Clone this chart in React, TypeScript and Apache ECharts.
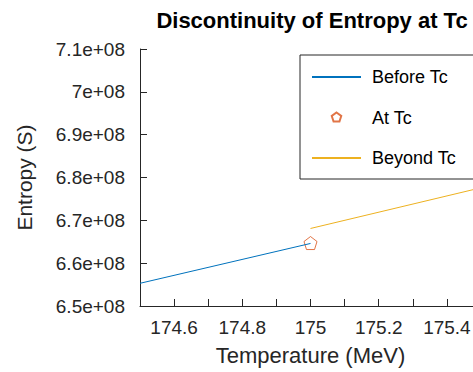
import React, { useEffect, useRef } from "react";
import * as echarts from "echarts";

const beforeTcT = [174.5, 175.0];
const beforeTcS = [6.553e8, 6.646e8];
const atTcT = [175.0];
const atTcS = [6.647e8];
const beyondTcT = [175.0, 175.5];
const beyondTcS = [6.681e8, 6.776e8];
const seriesNames = ["Before Tc", "At Tc", "Beyond Tc"];
const xTickLabels = ["174.6", "174.8", "175", "175.2", "175.4"];
const yTickLabels = ["6.5e+08", "6.6e+08", "6.7e+08", "6.8e+08", "6.9e+08", "7e+08", "7.1e+08"];

const FONT = "'Liberation Sans', Arial, Helvetica, sans-serif";
const TXT = "#262626";
const PENT = "path://M0,-1 L0.951,-0.309 L0.588,0.809 L-0.588,0.809 L-0.951,-0.309 Z";
const PENT_LEGEND =
  "path://M0,-1 L0.951,-0.309 L0.588,0.809 L-0.588,0.809 L-0.951,-0.309 Z M-1.7,-1.7 L-1.7,-1.7 M1.7,1.7 L1.7,1.7";

export default function App() {
  const ref = useRef<HTMLDivElement>(null);
  useEffect(() => {
    if (!ref.current) return;
    const chart = echarts.init(ref.current, null, { renderer: "svg" });
    const zip = (a: number[], b: number[]) => a.map((v, i) => [v, b[i]]);
    const isTick = (v: number) => xTickLabels.includes(String(Math.round(v * 10) / 10));
    chart.setOption({
      animation: false,
      textStyle: { fontFamily: FONT },
      title: {
        text: "Discontinuity of Entropy at Tc",
        left: 307,
        top: 4,
        textAlign: "center",
        textStyle: { fontFamily: FONT, fontSize: 22, fontWeight: "bold", color: "#000" },
      },
      grid: { left: 140, top: 49, width: 341, height: 257, outerBoundsMode: "none", containLabel: false },
      legend: {
        orient: "vertical",
        left: 300,
        top: 55,
        width: 150,
        padding: [13, 20, 12, 11],
        itemGap: 22,
        itemWidth: 49,
        itemHeight: 17,
        borderColor: TXT,
        borderWidth: 1,
        borderRadius: 0,
        backgroundColor: "#fff",
        data: [
          { name: seriesNames[0], itemStyle: { opacity: 0 } },
          { name: seriesNames[1], icon: PENT_LEGEND },
          { name: seriesNames[2], itemStyle: { opacity: 0 } },
        ],
        textStyle: { fontFamily: FONT, fontSize: 18, color: "#000", padding: [0, 0, 0, 6] },
      },
      xAxis: {
        type: "value",
        min: 174.5,
        max: 175.5,
        interval: 0.1,
        name: "Temperature (MeV)",
        nameLocation: "middle",
        nameGap: 38,
        nameTextStyle: { fontFamily: FONT, fontSize: 22, color: TXT },
        splitLine: { show: false },
        axisLine: { lineStyle: { color: TXT, width: 1 } },
        axisTick: {
          inside: true,
          length: 7,
          lineStyle: { color: TXT },
          interval: (_i: number, v: any) => isTick(Number(v)),
        },
        axisLabel: {
          fontFamily: FONT,
          fontSize: 19,
          color: TXT,
          margin: 12,
          formatter: (v: number) => (isTick(v) ? String(Math.round(v * 10) / 10) : ""),
          showMinLabel: false,
          showMaxLabel: false,
        },
      },
      yAxis: {
        type: "value",
        min: 6.5e8,
        max: 7.1e8,
        interval: 1e7,
        name: "Entropy (S)",
        nameLocation: "middle",
        nameRotate: 90,
        nameGap: 105,
        nameTextStyle: { fontFamily: FONT, fontSize: 21, color: TXT },
        splitLine: { show: false },
        axisLine: { lineStyle: { color: TXT, width: 1 } },
        axisTick: { inside: true, length: 7, lineStyle: { color: TXT } },
        axisLabel: {
          fontFamily: FONT,
          fontSize: 19,
          color: TXT,
          margin: 15,
          formatter: (v: number) => yTickLabels[Math.round((v - 6.5e8) / 1e7)] ?? "",
        },
      },
      series: [
        {
          name: seriesNames[0],
          type: "line",
          data: zip(beforeTcT, beforeTcS),
          showSymbol: false,
          symbol: "none",
          lineStyle: { color: "#0072BD", width: 1 },
          itemStyle: { color: "#0072BD" },
        },
        {
          name: seriesNames[1],
          type: "scatter",
          data: zip(atTcT, atTcS),
          symbol: PENT,
          symbolSize: 13,
          itemStyle: { color: "#fff", borderColor: "#D95319", borderWidth: 1 },
        },
        {
          name: seriesNames[2],
          type: "line",
          data: zip(beyondTcT, beyondTcS),
          showSymbol: false,
          symbol: "none",
          lineStyle: { color: "#EDB120", width: 1 },
          itemStyle: { color: "#EDB120" },
        },
      ],
    });
    return () => chart.dispose();
  }, []);
  return (
    <div
      ref={ref}
      style={{ position: "absolute", left: 0, top: 0, width: 473, height: 372, background: "#fff" }}
    />
  );
}
